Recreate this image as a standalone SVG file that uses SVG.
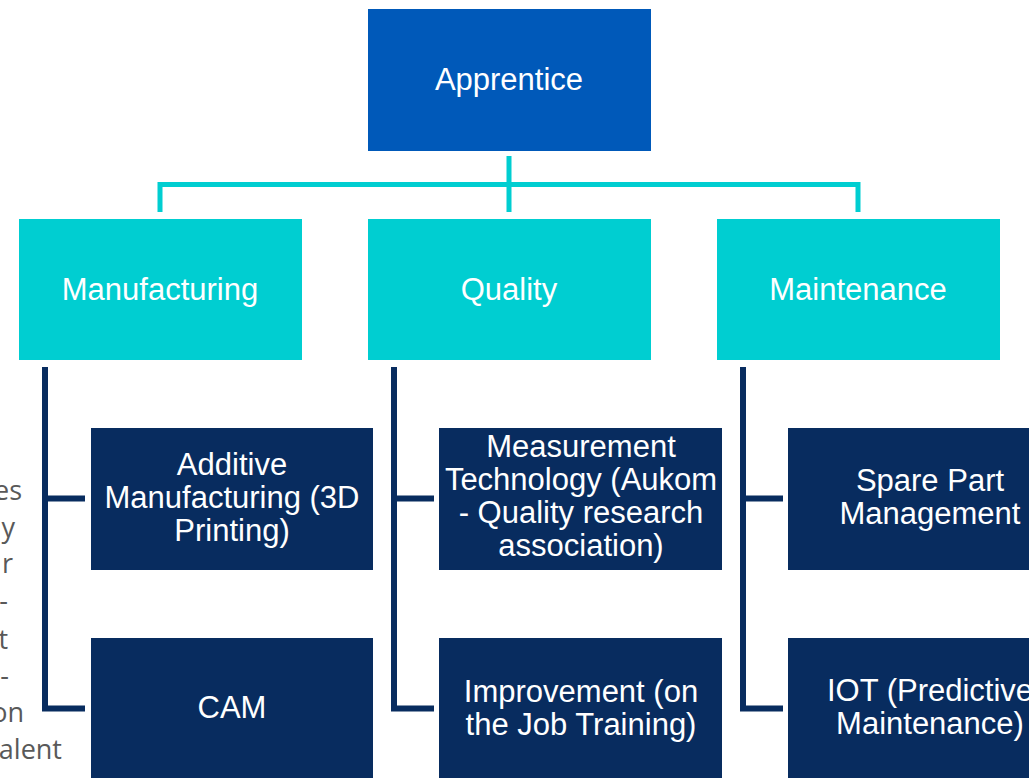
<svg xmlns="http://www.w3.org/2000/svg" width="1029" height="778" viewBox="0 0 1029 778">
<style>
.root{fill:#0059B9}
.lvl1{fill:#00CED1}
.lvl2{fill:#082C5F}
.lbl{font-family:"Liberation Sans",Arial,sans-serif;font-size:31px;fill:#FFFFFF;text-anchor:middle}
.cy{fill:none;stroke:#00CED1;stroke-width:5;stroke-linejoin:miter}
.nv{fill:none;stroke:#082C5F;stroke-width:6;stroke-linejoin:miter}
.bg{font-family:"Open Sans","Noto Sans",sans-serif;font-size:27px;fill:#595959;text-anchor:end}
</style>
<rect width="1029" height="778" fill="#FFFFFF"/>
<g id="background-text">
<text class="bg" x="22" y="500">es</text>
<text class="bg" x="15" y="537">y</text>
<text class="bg" x="13" y="573">r</text>
<text class="bg" x="8" y="610">-</text>
<text class="bg" x="8" y="649">t</text>
<text class="bg" x="9" y="685">l-</text>
<text class="bg" x="24" y="722">on</text>
<text class="bg" x="62" y="759">alent</text>
</g>
<g id="connectors">
<path class="cy" d="M509 156V212M160 212V184.5H858V212M509 184.5V212"/>
<path class="nv" d="M45 367V708.5H85M45 498.5H85"/>
<path class="nv" d="M394 367V708.5H434M394 498.5H434"/>
<path class="nv" d="M743 367V708.5H783M743 498.5H783"/>
</g>
<g id="apprentice">
<rect class="root" x="368" y="9" width="283" height="142"/>
<text class="lbl" x="509" y="90">Apprentice</text>
</g>
<g id="manufacturing">
<rect class="lvl1" x="19" y="219" width="283" height="141"/>
<text class="lbl" x="160" y="300">Manufacturing</text>
</g>
<g id="quality">
<rect class="lvl1" x="368" y="219" width="283" height="141"/>
<text class="lbl" x="509" y="300">Quality</text>
</g>
<g id="maintenance">
<rect class="lvl1" x="717" y="219" width="283" height="141"/>
<text class="lbl" x="858" y="300">Maintenance</text>
</g>
<g id="additive-manufacturing">
<rect class="lvl2" x="91" y="428" width="282" height="142"/>
<text class="lbl" x="232" y="475">Additive</text>
<text class="lbl" x="232" y="508">Manufacturing (3D</text>
<text class="lbl" x="232" y="541">Printing)</text>
</g>
<g id="cam">
<rect class="lvl2" x="91" y="638" width="282" height="142"/>
<text class="lbl" x="232" y="718">CAM</text>
</g>
<g id="measurement-technology">
<rect class="lvl2" x="439" y="428" width="283" height="142"/>
<text class="lbl" x="581" y="457">Measurement</text>
<text class="lbl" x="581" y="490">Technology (Aukom</text>
<text class="lbl" x="581" y="523">- Quality research</text>
<text class="lbl" x="581" y="556">association)</text>
</g>
<g id="improvement">
<rect class="lvl2" x="439" y="638" width="283" height="142"/>
<text class="lbl" x="581" y="702">Improvement (on</text>
<text class="lbl" x="581" y="735">the Job Training)</text>
</g>
<g id="spare-part-management">
<rect class="lvl2" x="788" y="428" width="283" height="142"/>
<text class="lbl" x="930" y="491">Spare Part</text>
<text class="lbl" x="930" y="524">Management</text>
</g>
<g id="iot">
<rect class="lvl2" x="788" y="638" width="283" height="142"/>
<text class="lbl" x="930" y="701">IOT (Predictive</text>
<text class="lbl" x="930" y="734">Maintenance)</text>
</g>
</svg>
